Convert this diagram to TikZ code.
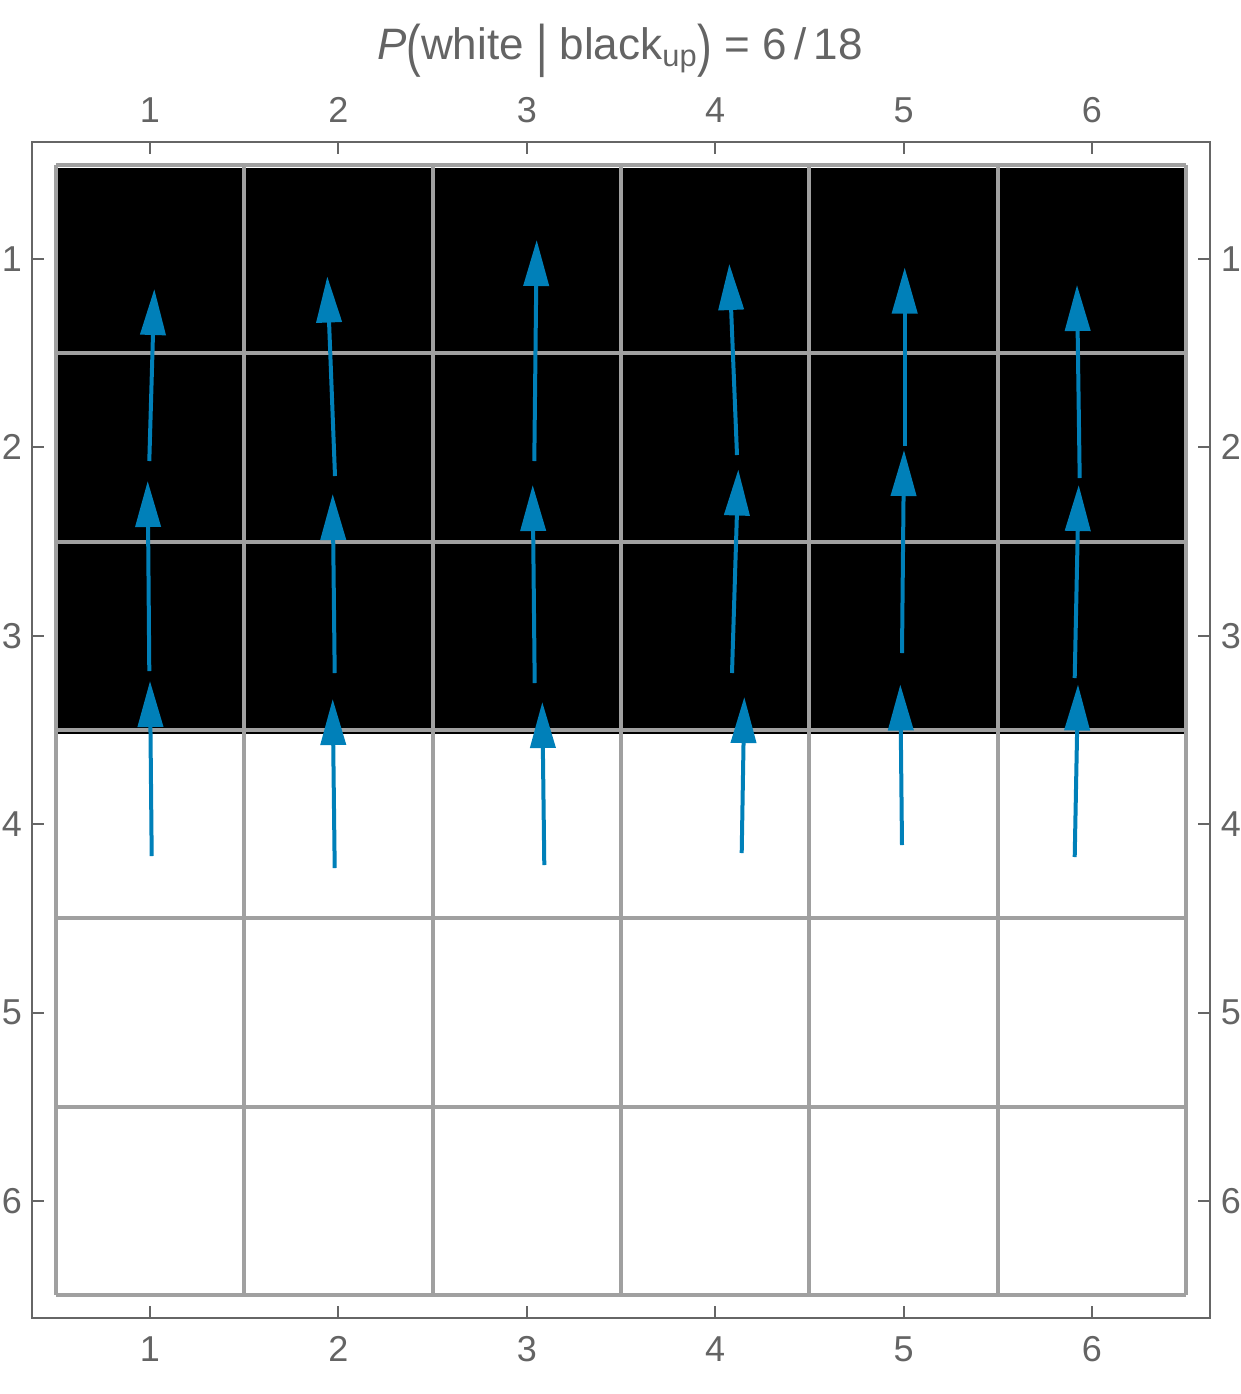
\documentclass[tikz,border=0pt]{standalone}
\usepackage{fontspec}
\setmainfont{Liberation Sans}
\usetikzlibrary{arrows.meta}
\definecolor{arrowblue}{RGB}{0,128,185}
\definecolor{gridgray}{RGB}{160,160,160}
\definecolor{framegray}{RGB}{102,102,102}
\definecolor{labelgray}{RGB}{100,100,100}
\begin{document}
\begin{tikzpicture}[x=0.5pt,y=-0.5pt,
  gridline/.style={draw=gridgray,line width=2pt},
  frameline/.style={draw=framegray,line width=1pt},
  tickline/.style={draw=framegray,line width=1pt},
  ticklabel/.style={text=labelgray,font=\fontsize{18}{20}\selectfont,inner sep=0pt},
  flowarrow/.style={draw=arrowblue,line width=2pt,-{Triangle[length=23pt,width=12.5pt]},fill=arrowblue}]
\useasboundingbox (0,0) rectangle (1241,1394);
% black region
\fill[black] (55.8,168) rectangle (1186.2,734);
% grid
\foreach \i in {0,...,6}{
  \draw[gridline] ({55.8+\i*188.4},164.8) -- ({55.8+\i*188.4},1295.2);
  \draw[gridline] (55.8,{164.8+\i*188.4}) -- (1186.2,{164.8+\i*188.4});
}
% frame
\draw[frameline] (32,142) rectangle (1210,1318);
% ticks and labels
\foreach \i in {1,...,6}{
  \pgfmathsetmacro{\xx}{150+(\i-1)*188.4}
  \pgfmathsetmacro{\yy}{259+(\i-1)*188.4}
  \draw[tickline] (\xx,142) -- (\xx,154);
  \draw[tickline] (\xx,1318) -- (\xx,1306);
  \draw[tickline] (32,\yy) -- (44,\yy);
  \draw[tickline] (1210,\yy) -- (1198,\yy);
  \node[ticklabel] (top\i) at (\xx,110) {\i};
  \node[ticklabel] (bot\i) at (\xx,1349) {\i};
  \node[ticklabel] (lft\i) at (12,\yy) {\i};
  \node[ticklabel] (rgt\i) at (1231,\yy) {\i};
}
% title
\node[text=labelgray,font=\fontsize{22}{25}\selectfont,inner sep=0pt] (title) at (620,51)
  {\textit{P}\raisebox{-0.13em}{\scalebox{1}[1.3]{(}}white \raisebox{-0.13em}{\scalebox{1}[1.3]{|}} black\textsubscript{up}\raisebox{-0.13em}{\scalebox{1}[1.3]{)}} = 6\,/\,18};
% arrows
\foreach \ax/\ay/\bx/\by in {
  149.3/461/154.3/289, 149.3/671/147.7/481, 151.7/856/150/681,
  335/476/327.3/276.5, 334.7/673/332.7/494, 334.7/868/332.7/699,
  534.3/461/536.7/240, 534.7/683/532.7/485, 544.3/865/542.3/702,
  737/455/729.3/264, 732/673/738.3/469.5, 741.7/853/744.3/697,
  904.7/446/904.7/267.5, 902/653/904/450, 902/845/900.3/684.5,
  1079.7/478/1077/285, 1074.7/678/1078.7/485, 1074.7/857/1078/684.5}{
  \draw[flowarrow] (\ax,\ay) -- (\bx,\by);
}
\end{tikzpicture}
\end{document}
